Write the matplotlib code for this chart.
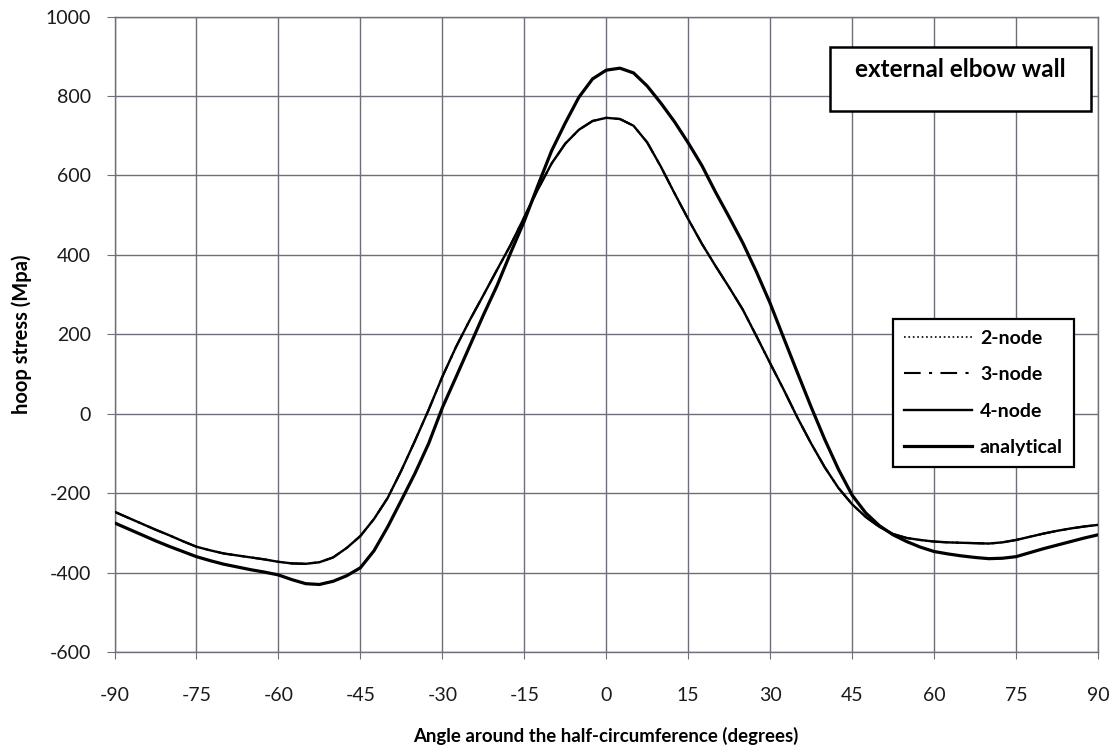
import numpy as np
import matplotlib.pyplot as plt
from matplotlib.patches import Rectangle

plt.rcParams['font.family'] = ['Lato', 'DejaVu Sans']
plt.rcParams['axes.unicode_minus'] = False

# wartosci
katy = np.arange(-90, 90.1, 2.5)

# FE (2-, 3- i 4-node praktycznie sie pokrywaja)
naprezenie_fe = [-247, -262, -277, -292, -306, -321, -335, -344, -352, -357,
                 -362, -367, -373, -377, -378, -374, -362, -338, -308, -265,
                 -212, -143, -68, 10, 93, 168, 235, 298, 362, 425,
                 495, 565, 630, 680, 715, 737, 745, 742, 725, 683,
                 622, 555, 490, 428, 372, 318, 262, 195, 127, 60,
                 -10, -75, -135, -187, -228, -260, -285, -303, -313, -318,
                 -322, -324, -325, -326, -327, -324, -318, -310, -302, -295,
                 -289, -284, -280]

naprezenie_an = [-275, -290, -305, -320, -334, -347, -360, -370, -379, -386,
                 -393, -399, -406, -418, -428, -430, -422, -408, -388, -345,
                 -285, -218, -150, -75, 15, 92, 170, 248, 322, 405,
                 485, 575, 662, 732, 797, 843, 865, 870, 858, 825,
                 782, 735, 682, 625, 558, 495, 430, 357, 278, 190,
                 103, 17, -65, -140, -205, -250, -282, -305, -322, -336,
                 -347, -353, -358, -362, -365, -364, -360, -350, -340, -331,
                 -322, -313, -305]

xticki = np.arange(-90, 91, 15)
yticki = np.arange(-600, 1001, 200)

fig = plt.figure(figsize=(11.14, 7.52), dpi=100)
ax = fig.add_axes([0.1028, 0.133, 0.8828, 0.845])

ax.plot(katy, naprezenie_fe, color='black', lw=1.2, ls=':', label='2-node', zorder=3)
ax.plot(katy, naprezenie_fe, color='black', lw=1.5, ls=(0, (8, 4, 1.5, 4)), label='3-node', zorder=3)
ax.plot(katy, naprezenie_fe, color='black', lw=1.7, ls='-', label='4-node', zorder=4)
ax.plot(katy, naprezenie_an, color='black', lw=2.3, ls='-', label='analytical', zorder=5)

ax.set_xlim(-90, 90)
ax.set_ylim(-600, 1000)
ax.set_xticks(xticki)
ax.set_yticks(yticki)
ax.grid(True, color='#6e7079', lw=1.0)
ax.set_axisbelow(True)
for s in ax.spines.values():
    s.set_color('#6e7079')
    s.set_linewidth(1.0)
ax.tick_params(axis='x', length=5, pad=20, labelsize=14, colors='#6e7079', labelcolor='#1a1a1a')
ax.tick_params(axis='y', length=6, pad=11, labelsize=14, colors='#6e7079', labelcolor='#1a1a1a')

ax.set_xlabel('Angle around the half-circumference (degrees)', fontsize=13.4, fontweight='bold', labelpad=17)
ax.set_ylabel('hoop stress (Mpa)', fontsize=14.5, fontweight='bold', labelpad=10)

# ramka z opisem
ax.add_patch(Rectangle((0.7275, 0.851), 0.2654, 0.101, transform=ax.transAxes,
                       facecolor='white', edgecolor='black', lw=1.8, zorder=6))
ax.text(0.8597, 0.916, 'external elbow wall', transform=ax.transAxes, ha='center', va='center',
        fontsize=17.5, fontweight='bold', zorder=7)

leg = ax.legend(loc='upper left', bbox_to_anchor=(0.7916, 0.524), frameon=True, fancybox=False,
                edgecolor='black', framealpha=1, fontsize=14, handlelength=3.5,
                handletextpad=0.42, labelspacing=1.0, borderpad=0.55, borderaxespad=0)
leg.get_frame().set_linewidth(1.6)
for t in leg.get_texts():
    t.set_fontweight('bold')

fig.savefig('out.png', dpi=100)
